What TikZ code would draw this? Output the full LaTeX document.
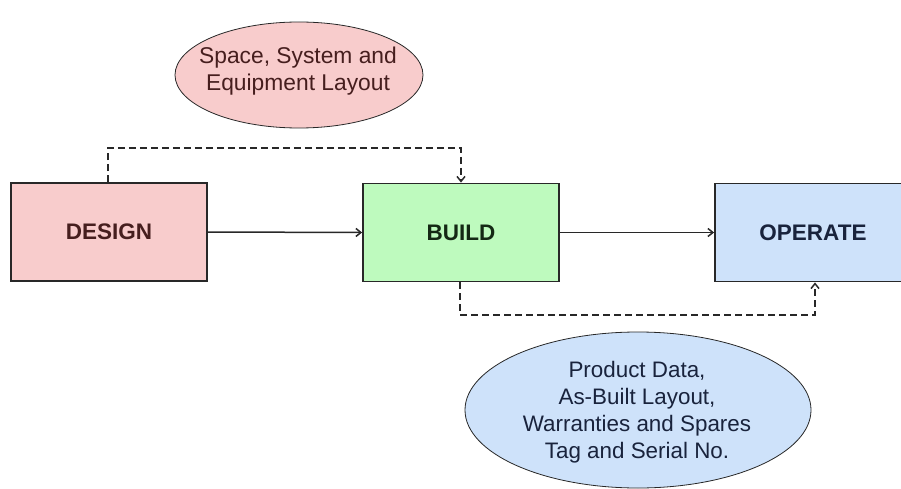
\documentclass[tikz,border=0pt]{standalone}
\usepackage{fontspec}
\setmainfont{Liberation Sans}
\usetikzlibrary{shapes.geometric,arrows.meta}
\definecolor{pinkfill}{RGB}{248,204,204}
\definecolor{greenfill}{RGB}{190,250,190}
\definecolor{bluefill}{RGB}{206,226,250}
\definecolor{edgegray}{RGB}{40,40,40}
\definecolor{pinktext}{RGB}{70,30,30}
\definecolor{greentext}{RGB}{20,40,20}
\definecolor{bluetext}{RGB}{25,35,60}
\tikzset{
  stagebox/.style={draw=edgegray, line width=1.8pt, rectangle, minimum width=196pt, minimum height=98pt, inner sep=0pt,
    font=\fontsize{22.5}{26}\selectfont\bfseries},
  bubble/.style={draw=edgegray, line width=0.8pt, ellipse, inner sep=0pt, align=center,
    font=\fontsize{22}{27}\selectfont},
  flow/.style={draw=edgegray, line width=1.5pt, -{Straight Barb[length=5pt,width=8pt]}},
  dflow/.style={flow, dash pattern=on 7pt off 4pt}
}
\begin{document}
\begin{tikzpicture}[x=1pt,y=-1pt]
\useasboundingbox (0,0) rectangle (901,489);
\fill[white] (0,0) rectangle (901,489);
\clip (0,0) rectangle (901,489);
% boxes
\node[stagebox, fill=pinkfill, text=pinktext] (design) at (109,232) {DESIGN};
\node[stagebox, fill=greenfill, text=greentext] (build) at (461,232.5) {BUILD};
\node[stagebox, fill=bluefill, text=bluetext] (operate) at (813,232.5) {OPERATE};
% ellipses
\node[bubble, fill=pinkfill, text=pinktext, minimum width=248pt, minimum height=106pt] (space) at (299,75) {};
\node[align=center, font=\fontsize{22.8}{27}\selectfont, text=pinktext] (spacetxt) at (298,71) {Space, System and\\Equipment Layout};
\node[bubble, fill=bluefill, text=bluetext, minimum width=346pt, minimum height=156pt] (product) at (638,410) {};
\node[align=center, font=\fontsize{22.4}{27}\selectfont, text=bluetext] (producttxt) at (637,412) {Product Data,\\As-Built Layout,\\Warranties and Spares\\Tag and Serial No.};
% connectors
\draw[flow] (design.east) -- (build.west);
\draw[flow] (build.east) -- (operate.west);
\coordinate (d1) at ([xshift=-1pt]design.north);
\coordinate (t1) at (d1 |- 0,148);
\draw[dflow] (d1) -- (t1) -- (t1 -| build.north) -- (build.north);
\coordinate (s1) at ([xshift=-1pt]build.south);
\coordinate (opb) at ([xshift=2pt]operate.south);
\coordinate (b1) at (s1 |- 0,315);
\draw[dflow] (s1) -- (b1) -- (b1 -| opb) -- (opb);
\end{tikzpicture}
\end{document}
